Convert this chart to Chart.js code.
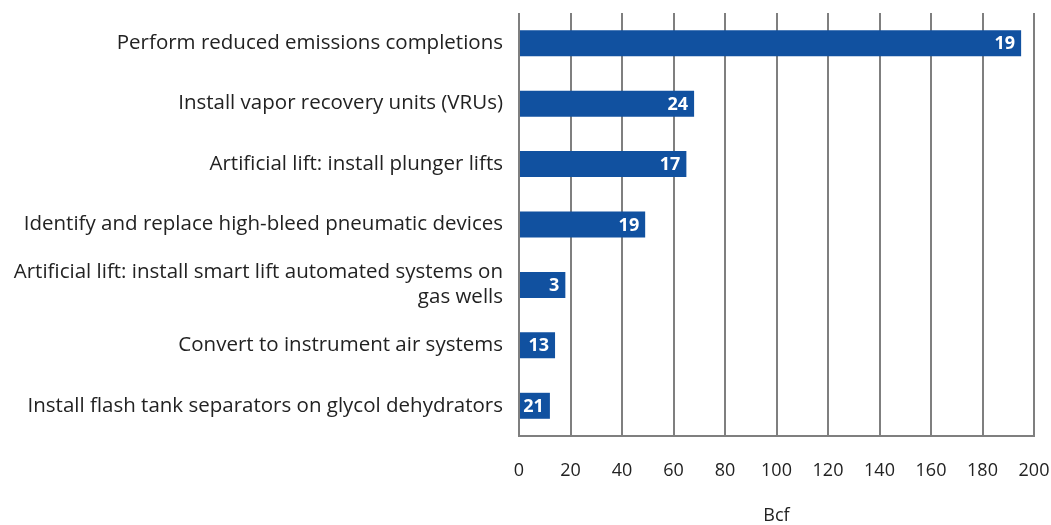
<!DOCTYPE html>
<html>
<head>
<meta charset="utf-8">
<script src="https://cdn.jsdelivr.net/npm/chart.js@4.4.0/dist/chart.umd.min.js"></script>
<style>
  html, body { margin: 0; padding: 0; background: #fff; }
  #wrap { width: 1051px; height: 525px; }
</style>
</head>
<body>
<div id="wrap"><canvas id="myChart"></canvas></div>
<script>
const categories = [
  "Perform reduced emissions completions",
  "Install vapor recovery units (VRUs)",
  "Artificial lift: install plunger lifts",
  "Identify and replace high-bleed pneumatic devices",
  ["Artificial lift: install smart lift automated systems on", "gas wells"],
  "Convert to instrument air systems",
  "Install flash tank separators on glycol dehydrators",
];
const bcfValues = [195, 68, 65, 49, 18, 14, 12];
const barLabels = ["19", "24", "17", "19", "3", "13", "21"];
const xTicks = [0, 20, 40, 60, 80, 100, 120, 140, 160, 180, 200];

const fontFamily = "'Open Sans', 'Noto Sans', sans-serif";
const gridColor = "#7f7f7f";

// white numbers at the end of each bar
const barTextPlugin = {
  id: "barText",
  afterDatasetsDraw(chart) {
    const ctx = chart.ctx;
    const meta = chart.getDatasetMeta(0);
    ctx.save();
    ctx.fillStyle = "#ffffff";
    ctx.font = "bold 18px " + fontFamily;
    ctx.textAlign = "right";
    ctx.textBaseline = "middle";
    meta.data.forEach((bar, i) => {
      ctx.fillText(barLabels[i], bar.x - 6, bar.y + 1);
    });
    ctx.restore();
  },
};

const config = {
  type: "bar",
  data: {
    labels: categories,
    datasets: [
      {
        label: "Bcf",
        data: bcfValues,
        backgroundColor: "#1151a0",
        borderWidth: 0,
        barPercentage: 0.86,
        categoryPercentage: 0.5,
      },
    ],
  },
  options: {
    indexAxis: "y",
    responsive: false,
    animation: false,
    layout: { padding: { top: 13, right: 0, left: 0, bottom: 0 } },
    plugins: {
      legend: { display: false },
      tooltip: { enabled: false },
    },
    scales: {
      x: {
        min: 0,
        max: 200,
        afterBuildTicks: (scale) => {
          scale.ticks = xTicks.map((v) => ({ value: v }));
        },
        afterFit: (scale) => {
          scale.height = 89;
          scale.paddingRight = 17;
        },
        grid: { color: gridColor, lineWidth: 2, drawTicks: false },
        border: { display: true, color: gridColor, width: 2 },
        ticks: {
          color: "#222",
          padding: 24,
          font: { family: fontFamily, size: 18 },
          maxRotation: 0,
        },
        title: {
          display: true,
          text: "Bcf",
          color: "#222",
          font: { family: fontFamily, size: 18, lineHeight: 1 },
          padding: { top: 16, bottom: 0 },
        },
      },
      y: {
        grid: { display: false, drawTicks: false },
        border: { display: false },
        afterFit: (scale) => {
          scale.width = 519;
          scale.paddingTop = 0;
          scale.paddingBottom = 0;
        },
        ticks: {
          color: "#222",
          padding: 16,
          font: { family: fontFamily, size: 20.5 },
        },
      },
    },
  },
  plugins: [barTextPlugin],
};

const canvas = document.getElementById("myChart");
canvas.width = 1051;
canvas.height = 525;
const myChart = new Chart(canvas, config);
</script>
</body>
</html>
